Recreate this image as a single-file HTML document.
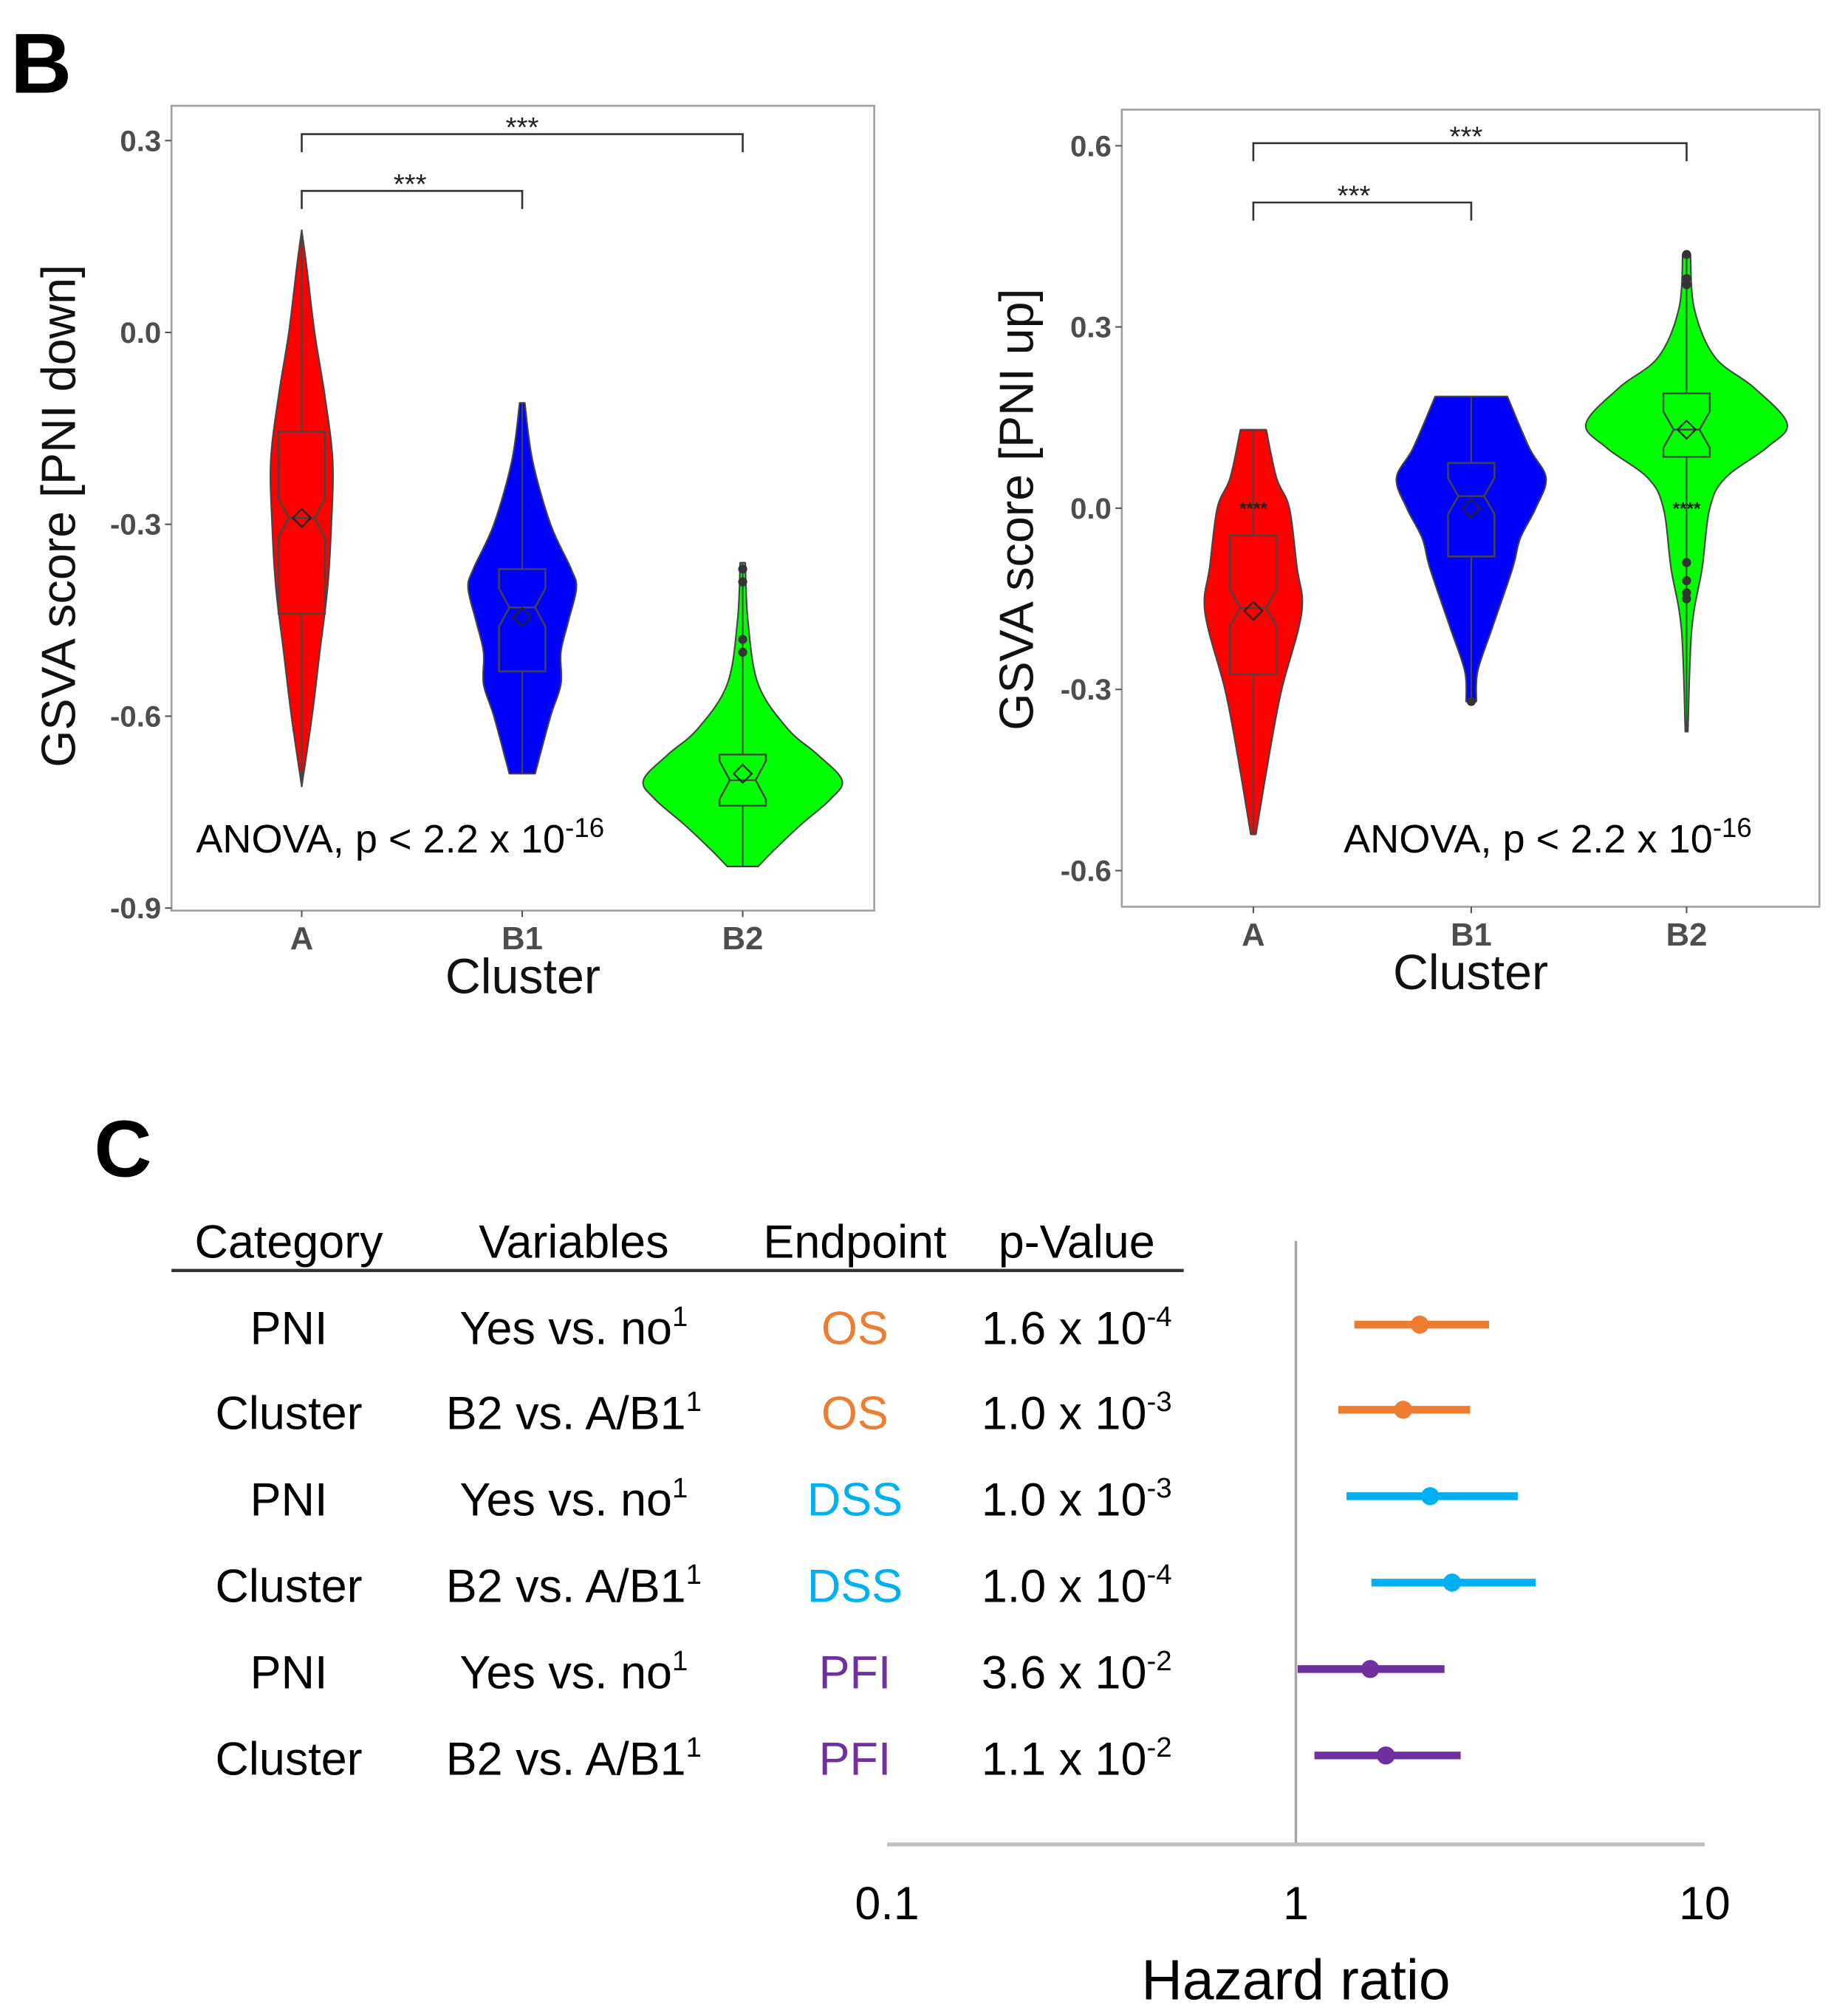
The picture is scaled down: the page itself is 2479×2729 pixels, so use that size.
<!DOCTYPE html>
<html><head><meta charset="utf-8">
<style>html,body{margin:0;padding:0;background:#fff}svg{display:block}</style>
</head><body>
<svg id="fig" width="2479" height="2729" viewBox="0 0 1420 1563" preserveAspectRatio="none" xmlns="http://www.w3.org/2000/svg" font-family="Liberation Sans, Arial, sans-serif">
<text x="8" y="72" font-size="66" font-weight="bold">B</text>
<text x="73" y="912" font-size="62" font-weight="bold">C</text>
<g id="left"></g>
<g id="right"></g>
<g id="forest"></g>
</svg>
<script>
// ---- Violin data (left: PNI down) ----
const clusters = ["A","B1","B2"];
const yTicksL = [0.3,0.0,-0.3,-0.6,-0.9];
const yTicksR = [0.6,0.3,0.0,-0.3,-0.6];
const vA_L = [[0.16,0],[0.1,4],[0.0,10],[-0.1,18],[-0.2,24],[-0.3,23],[-0.4,20],[-0.5,14],[-0.6,8],[-0.71,0]];
const vB1_L = [[-0.11,2],[-0.2,8],[-0.3,22],[-0.37,38],[-0.4,42],[-0.45,36],[-0.5,30],[-0.55,30],[-0.6,22],[-0.69,10]];
const vB2_L = [[-0.36,2],[-0.45,4],[-0.55,12],[-0.62,35],[-0.66,58],[-0.7,77],[-0.73,68],[-0.77,45],[-0.81,24],[-0.835,12]];
const boxL = [[-0.155,-0.29,-0.44,-0.29],[-0.37,-0.43,-0.53,-0.445],[-0.66,-0.70,-0.74,-0.69]]; // q3, median, q1, mean
const outL = [[],[],[-0.37,-0.39,-0.48,-0.5]];
// ---- Violin data (right: PNI up) ----
const vA_R = [[0.13,10],[0.05,18],[0.0,28],[-0.1,34],[-0.15,38],[-0.2,35],[-0.3,22],[-0.4,13],[-0.54,2]];
const vB1_R = [[0.185,28],[0.1,45],[0.05,58],[0.0,50],[-0.05,38],[-0.1,32],[-0.2,16],[-0.27,5],[-0.32,4]];
const vB2_R = [[0.42,3],[0.33,6],[0.25,22],[0.2,52],[0.14,78],[0.1,62],[0.05,30],[0.0,18],[-0.1,12],[-0.2,4],[-0.37,1]];
const boxR = [[-0.045,-0.165,-0.275,-0.17],[0.075,0.02,-0.08,0.0],[0.19,0.13,0.085,0.13]];
const outR = [[],[-0.32],[0.42,0.38,0.37,-0.09,-0.12,-0.14,-0.15]];
const colors = ["#ff0000","#0000ff","#00ff00"];

// ---- Forest data ----
const categories = ["PNI","Cluster","PNI","Cluster","PNI","Cluster"];
const variables = ["Yes vs. no","B2 vs. A/B1","Yes vs. no","B2 vs. A/B1","Yes vs. no","B2 vs. A/B1"];
const endpoints = ["OS","OS","DSS","DSS","PFI","PFI"];
const pMant = ["1.6","1.0","1.0","1.0","3.6","1.1"];
const pExp = ["-4","-3","-3","-4","-2","-2"];
const hr = [2.01,1.83,2.13,2.41,1.52,1.66];
const hrLow = [1.39,1.27,1.33,1.53,1.01,1.11];
const hrHigh = [2.97,2.67,3.49,3.86,2.31,2.53];
const xTickVals = [0.1,1,10];
const epColor = {OS:"#ed7d31",DSS:"#00b0f0",PFI:"#7030a0"};

const NS="http://www.w3.org/2000/svg";
function mk(parent,tag,attrs,text){const e=document.createElementNS(NS,tag);for(const k in attrs)e.setAttribute(k,attrs[k]);if(text!==undefined)e.textContent=text;parent.appendChild(e);return e;}

// Catmull-Rom smooth path through points (continuing from current point p[0])
function smooth(p){
  let d='';
  for(let i=0;i<p.length-1;i++){
    const p0=p[Math.max(0,i-1)],p1=p[i],p2=p[i+1],p3=p[Math.min(p.length-1,i+2)];
    const c1=[p1[0]+(p2[0]-p0[0])/6,p1[1]+(p2[1]-p0[1])/6];
    const c2=[p2[0]-(p3[0]-p1[0])/6,p2[1]-(p3[1]-p1[1])/6];
    d+=`C${c1[0]},${c1[1]} ${c2[0]},${c2[1]} ${p2[0]},${p2[1]}`;
  }
  return d;
}

function violinPanel(g, cfg){
  const {x0,x1,y0,y1,ticks,tv0,ty0,tv1,ty1,cx,vio,box,outl,title,br,anovaX,prefix}=cfg;
  const ys=v=>ty0+(v-tv0)*(ty1-ty0)/(tv1-tv0);
  const fr=mk(g,'rect',{x:x0,y:y0,width:x1-x0,height:y1-y0,fill:'none',stroke:'#a0a0a0','stroke-width':1.5});
  
  
  ticks.forEach(t=>{
    mk(g,'line',{x1:x0-5,x2:x0,y1:ys(t),y2:ys(t),stroke:'#555','stroke-width':1.2});
    const tx=mk(g,'text',{x:x0-8,y:ys(t)+8,'text-anchor':'end','font-size':23,'font-weight':'bold',fill:'#4d4d4d'},t.toFixed(1));
    
    
  });
  clusters.forEach((c,i)=>{
    mk(g,'line',{x1:cx[i],x2:cx[i],y1:y1,y2:y1+5,stroke:'#555','stroke-width':1.2});
    const tx=mk(g,'text',{x:cx[i],y:y1+30,'text-anchor':'middle','font-size':25,'font-weight':'bold',fill:'#4d4d4d'},c);
    
    
    const pts=vio[i];
    const right=pts.map(p=>[cx[i]+p[1],ys(p[0])]);
    const left=pts.slice().reverse().map(p=>[cx[i]-p[1],ys(p[0])]);
    let d='M'+right[0][0]+','+right[0][1]+smooth(right)+'L'+left[0][0]+','+left[0][1]+smooth(left)+'Z';
    const v=mk(g,'path',{d:d,fill:colors[i],stroke:'#444','stroke-width':1.2,'stroke-linejoin':'round'});
    
    
    mk(g,'line',{x1:cx[i],x2:cx[i],y1:ys(pts[0][0]),y2:ys(pts[pts.length-1][0]),stroke:'#444','stroke-width':1.2});
    const [q3,med,q1,mean]=box[i];const bw=18,nw=10,nh=0.03;
    const bd=`M${cx[i]-bw},${ys(q3)}L${cx[i]+bw},${ys(q3)}L${cx[i]+bw},${ys(med+nh)}L${cx[i]+nw},${ys(med)}L${cx[i]+bw},${ys(med-nh)}L${cx[i]+bw},${ys(q1)}L${cx[i]-bw},${ys(q1)}L${cx[i]-bw},${ys(med-nh)}L${cx[i]-nw},${ys(med)}L${cx[i]-bw},${ys(med+nh)}Z`;
    const b=mk(g,'path',{d:bd,fill:colors[i],stroke:'#444','stroke-width':1.4});
    
    
    mk(g,'line',{x1:cx[i]-nw,x2:cx[i]+nw,y1:ys(med),y2:ys(med),stroke:'#444','stroke-width':1.4});
    const my=ys(mean);
    const dm=mk(g,'path',{d:`M${cx[i]},${my-7}L${cx[i]+7},${my}L${cx[i]},${my+7}L${cx[i]-7},${my}Z`,fill:'none',stroke:'#222','stroke-width':1.3});
    
    
    outl[i].forEach(o=>{
      const oc=mk(g,'circle',{cx:cx[i],cy:ys(o),r:3.5,fill:'#333'});
      
      
    });
  });
  br.forEach(bk=>{
    const [a,b,yy,sx]=bk;
    mk(g,'path',{d:`M${cx[a]},${yy+14}L${cx[a]},${yy}L${cx[b]},${yy}L${cx[b]},${yy+14}`,fill:'none',stroke:'#333','stroke-width':1.5});
    const s=mk(g,'text',{x:sx,y:yy+2,'text-anchor':'middle','font-size':22,fill:'#222'},'***');
    
    
  });
  const xt=mk(g,'text',{x:(x0+x1)/2,y:y1+64,'text-anchor':'middle','font-size':38,fill:'#111'},'Cluster');
  
  
  const yt=mk(g,'text',{x:0,y:0,'text-anchor':'middle','font-size':37,fill:'#111',transform:`translate(${title[1]},${title[2]}) rotate(-90)`},title[0]);
  
  
  const an=mk(g,'text',{x:anovaX,y:661,'font-size':31,fill:'#000'});
  
  
  mk(an,'tspan',{},'ANOVA, p < 2.2 x 10');
  mk(an,'tspan',{'font-size':21,dy:-12},'-16');
}

violinPanel(document.getElementById('left'),{x0:133,x1:678,y0:82,y1:706,ticks:yTicksL,tv0:0.3,ty0:109,tv1:-0.9,ty1:704,
  cx:[234,405,576],vio:[vA_L,vB1_L,vB2_L],box:boxL,outl:outL,title:['GSVA score [PNI down]',58,400],
  br:[[0,2,104,405],[0,1,148,318]],anovaX:152,prefix:'left-'});
violinPanel(document.getElementById('right'),{x0:870,x1:1411,y0:85,y1:703,ticks:yTicksR,tv0:0.6,ty0:113,tv1:-0.6,ty1:675,
  cx:[972,1141,1308],vio:[vA_R,vB1_R,vB2_R],box:boxR,outl:outR,title:['GSVA score [PNI up]',801,395],
  br:[[0,2,111,1137],[0,1,157,1050]],anovaX:1042,prefix:'right-'});
[[972,395],[1308,395]].forEach(p=>{
  const t=mk(document.getElementById('right'),'text',{x:p[0],y:p[1]+4,'text-anchor':'middle','font-size':14,'font-weight':'bold',fill:'#222'},'****');
  
  
});

// ---- Forest plot ----
(function(){
  const g=document.getElementById('forest');
  const xs=v=>1005+Math.log10(v)*317;
  const colX=[224,445,663,835];
  ['Category','Variables','Endpoint','p-Value'].forEach((h,i)=>{
    const t=mk(g,'text',{x:colX[i],y:975,'text-anchor':'middle','font-size':36,fill:'#000'},h);
    
    
  });
  mk(g,'line',{x1:133,x2:918,y1:985,y2:985,stroke:'#333','stroke-width':2.5});
  const rowY=[1030,1096,1163,1230,1297,1364];
  categories.forEach((c,i)=>{
    const y=rowY[i]+12;
    const t1=mk(g,'text',{x:colX[0],y:y,'text-anchor':'middle','font-size':36},c);
    
    
    const t2=mk(g,'text',{x:colX[1],y:y,'text-anchor':'middle','font-size':36});
    
    
    mk(t2,'tspan',{},variables[i]);mk(t2,'tspan',{'font-size':22,dy:-14},'1');
    const t3=mk(g,'text',{x:colX[2],y:y,'text-anchor':'middle','font-size':36,fill:epColor[endpoints[i]]},endpoints[i]);
    
    
    const t4=mk(g,'text',{x:colX[3],y:y,'text-anchor':'middle','font-size':36});
    
    
    mk(t4,'tspan',{},pMant[i]+' x 10');mk(t4,'tspan',{'font-size':22,dy:-14},pExp[i]);
    const col=epColor[endpoints[i]];
    const ci=mk(g,'line',{x1:xs(hrLow[i]),x2:xs(hrHigh[i]),y1:rowY[i]-3,y2:rowY[i]-3,stroke:col,'stroke-width':6});
    
    
    const pt=mk(g,'circle',{cx:xs(hr[i]),cy:rowY[i]-3,r:7,fill:col});
    
    
  });
  mk(g,'line',{x1:xs(1),x2:xs(1),y1:962,y2:1430,stroke:'#a6a6a6','stroke-width':2});
  const ax=mk(g,'line',{x1:xs(0.1),x2:xs(10),y1:1430,y2:1430,stroke:'#bfbfbf','stroke-width':3});
  
  
  xTickVals.forEach(v=>{
    const t=mk(g,'text',{x:xs(v),y:1488,'text-anchor':'middle','font-size':36},String(v));
    
    
  });
  const ht=mk(g,'text',{x:xs(1),y:1550,'text-anchor':'middle','font-size':44},'Hazard ratio');
  
  
})();
</script>
</body></html>
